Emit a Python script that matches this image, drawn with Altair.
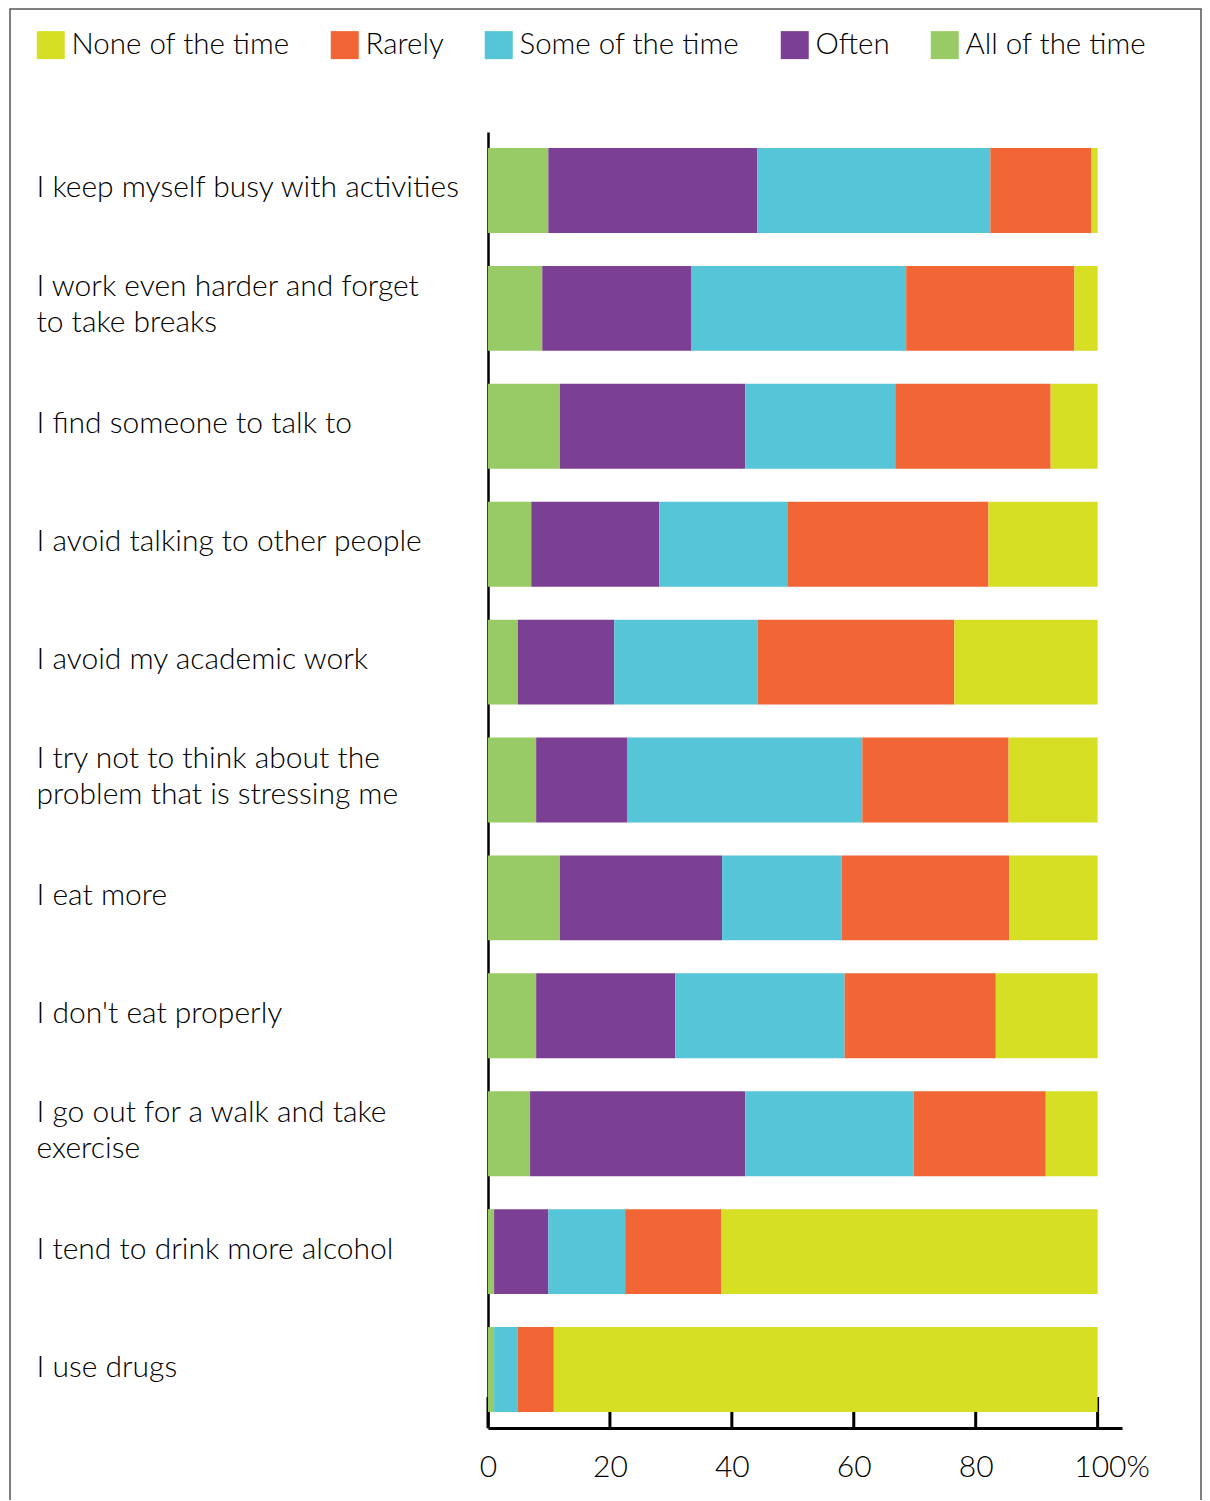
import altair as alt
import pandas as pd

categories = [
    "I keep myself busy with activities",
    "I work even harder and forget\nto take breaks",
    "I find someone to talk to",
    "I avoid talking to other people",
    "I avoid my academic work",
    "I try not to think about the\nproblem that is stressing me",
    "I eat more",
    "I don't eat properly",
    "I go out for a walk and take\nexercise",
    "I tend to drink more alcohol",
    "I use drugs",
]

series_names = ["None of the time", "Rarely", "Some of the time", "Often", "All of the time"]
series_colors = ["#D6DF23", "#F26635", "#55C5D7", "#7B3F94", "#98CB65"]

all_of_the_time = [9.9, 8.9, 11.8, 7.1, 4.9, 7.9, 11.8, 7.9, 6.9, 1.0, 1.0]
often = [34.3, 24.4, 30.4, 21.0, 15.8, 14.9, 26.6, 22.8, 35.3, 8.9, 0.0]
some_of_the_time = [38.2, 35.3, 24.6, 21.0, 23.5, 38.6, 19.6, 27.8, 27.6, 12.6, 3.9]
rarely = [16.6, 27.6, 25.5, 33.0, 32.3, 24.0, 27.5, 24.8, 21.7, 15.8, 5.9]
none_of_the_time = [1.0, 3.8, 7.7, 17.9, 23.5, 14.6, 14.5, 16.7, 8.5, 61.7, 89.2]

tick_values = [0, 20, 40, 60, 80, 100]

FONT = "Lato"
FS_AXIS = 30
FS_LEGEND = 29.5

# stack order: left-to-right
stack = [
    ("All of the time", all_of_the_time),
    ("Often", often),
    ("Some of the time", some_of_the_time),
    ("Rarely", rarely),
    ("None of the time", none_of_the_time),
]
rows = []
for k, (name, vals) in enumerate(stack):
    for cat, v in zip(categories, vals):
        rows.append({"category": cat, "response": name, "value": v, "ord": k})
df = pd.DataFrame(rows)

W, H = 634, 1296

xscale = alt.Scale(domain=[0, 104], nice=False, zero=True)

bars = alt.Chart(df).mark_bar(strokeWidth=0).encode(
    x=alt.X(
        "value:Q",
        stack="zero",
        scale=xscale,
        title="",
        axis=alt.Axis(
            values=tick_values,
            ticks=False,
            tickSize=0,
            grid=False,
            domainColor="black",
            domainWidth=3,
            labelFont=FONT,
            labelFontSize=FS_AXIS,
            labelFontWeight=300,
            labelColor="black",
            labelPadding=24,
            labelFlush=False,
            labelOffset={"condition": {"test": "datum.value == 100", "value": 14}, "value": 0},
            labelExpr="datum.value == 100 ? '100%' : datum.label",
        ),
    ),
    y=alt.Y(
        "category:N",
        sort=categories,
        scale=alt.Scale(paddingInner=0.28, paddingOuter=0.136),
        title="",
        axis=alt.Axis(
            ticks=False,
            tickSize=0,
            grid=False,
            domainColor="black",
            domainWidth=2.5,
            labelFont=FONT,
            labelFontSize=FS_AXIS,
            labelFontWeight=300,
            labelColor="black",
            labelAlign="left",
            labelBaseline="middle",
            labelPadding=452,
            labelLimit=0,
            labelLineHeight=36,
            labelOffset={
                "condition": {"test": "length(split(datum.value, '\\n')) > 1", "value": -21},
                "value": -2,
            },
            labelExpr="split(datum.label, '\\n')",
        ),
    ),
    color=alt.Color(
        "response:N",
        scale=alt.Scale(domain=series_names, range=series_colors),
        legend=alt.Legend(
            title="",
            orient="none",
            direction="horizontal",
            legendX=-452,
            legendY=-102,
            symbolType="square",
            symbolSize=784,
            symbolStrokeWidth=0,
            symbolOpacity=1,
            labelFont=FONT,
            labelFontSize=FS_LEGEND,
            labelFontWeight=300,
            labelColor="black",
            labelOffset=6,
            labelLimit=0,
            columnPadding=40,
            padding=0,
            columns=5,
        ),
    ),
    order=alt.Order("ord:Q"),
)

ticks = alt.Chart(pd.DataFrame({"value": tick_values})).mark_rule(
    color="black", strokeWidth=3
).encode(
    x=alt.X("value:Q", scale=xscale, title=""),
    y=alt.value(H - 31),
    y2=alt.value(H),
)

frame = alt.Chart(pd.DataFrame({"a": [0]})).mark_rect(
    fill="transparent", stroke="#555555", strokeWidth=1.5
).encode(
    x=alt.value(-478),
    x2=alt.value(713),
    y=alt.value(-123),
    y2=alt.value(1380),
)

chart = alt.layer(frame, ticks, bars).properties(
    width=W,
    height=H,
    autosize=alt.AutoSizeParams(type="none"),
    padding={"left": 480, "top": 124, "right": 80, "bottom": 72},
    background="white",
).configure_view(strokeWidth=0)

chart.save("out.html", embed_options={"renderer": "svg", "actions": False})
